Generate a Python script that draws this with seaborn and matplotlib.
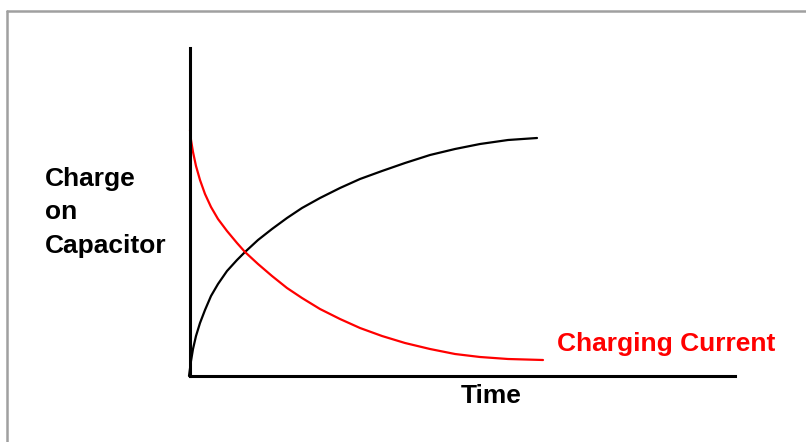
import matplotlib
import matplotlib.pyplot as plt
import pandas as pd
import seaborn as sns
from matplotlib.lines import Line2D

matplotlib.use("Agg")

# --- DATA (arbitrary units) ---
sample_time = [1, 3, 6, 10, 15, 21, 28, 37, 47, 55, 68, 82, 97, 112, 130,
               150, 170, 192, 215, 240, 265, 290, 318]
charge_time = [-1] + sample_time + [347]
charge_value = [0, 15, 27, 40, 53, 66, 80, 92, 105, 116, 124, 136, 147, 158,
                168, 178, 188, 197, 205, 213, 221, 227, 232, 236, 238]

current_time = [0] + sample_time + [353]
current_value = [246, 236, 224, 210, 196, 182, 169, 157, 145, 133, 124, 112,
                 100, 88, 78, 67, 57, 48, 40, 33, 27, 22, 19, 17, 16]

y_label = "Charge\non\nCapacitor"
x_label = "Time"
current_label = "Charging Current"
# ----------------------------------------------------

W, H = 806, 442

sns.set_style("white")
plt.rcParams["font.family"] = ["Liberation Sans", "DejaVu Sans"]
plt.rcParams["text.color"] = "black"

fig = plt.figure(figsize=(W / 100, H / 100), dpi=100)


def fx(px):
    return px / W


def fy(py):
    return 1 - py / H


ax = fig.add_axes([fx(190), fy(376), (735 - 190) / W, (376 - 48) / H])

charge_df = pd.DataFrame({"t": charge_time, "q": charge_value})
current_df = pd.DataFrame({"t": current_time, "i": current_value})

sns.lineplot(data=charge_df, x="t", y="q", ax=ax, color="black", lw=1.6,
             sort=False, clip_on=False)
sns.lineplot(data=current_df, x="t", y="i", ax=ax, color="#ff0000", lw=1.6,
             sort=False, clip_on=False)

ax.set_xlim(0, 545)
ax.set_ylim(0, 328)
ax.set_xticks([])
ax.set_yticks([])
ax.set_xlabel("")
ax.set_ylabel("")
for side in ["top", "right"]:
    ax.spines[side].set_visible(False)
for side in ["left", "bottom"]:
    ax.spines[side].set_color("black")
    ax.spines[side].set_linewidth(2.2)

# labels
fig.text(fx(45), fy(253), y_label, fontsize=19, fontweight="bold",
         ha="left", va="baseline", linespacing=1.5)
fig.text(fx(491), fy(403), x_label, fontsize=19, fontweight="bold",
         ha="center", va="baseline")
fig.text(fx(557), fy(351), current_label, fontsize=19, fontweight="bold",
         color="#ff0000", ha="left", va="baseline")

# slide frame (top and left edges only)
frame = dict(color="#a0a0a0", lw=1.8, transform=fig.transFigure)
fig.add_artist(Line2D([fx(7), 1], [fy(11), fy(11)], **frame))
fig.add_artist(Line2D([fx(7), fx(7)], [fy(11), 0], **frame))

fig.savefig("out.png", dpi=100)
